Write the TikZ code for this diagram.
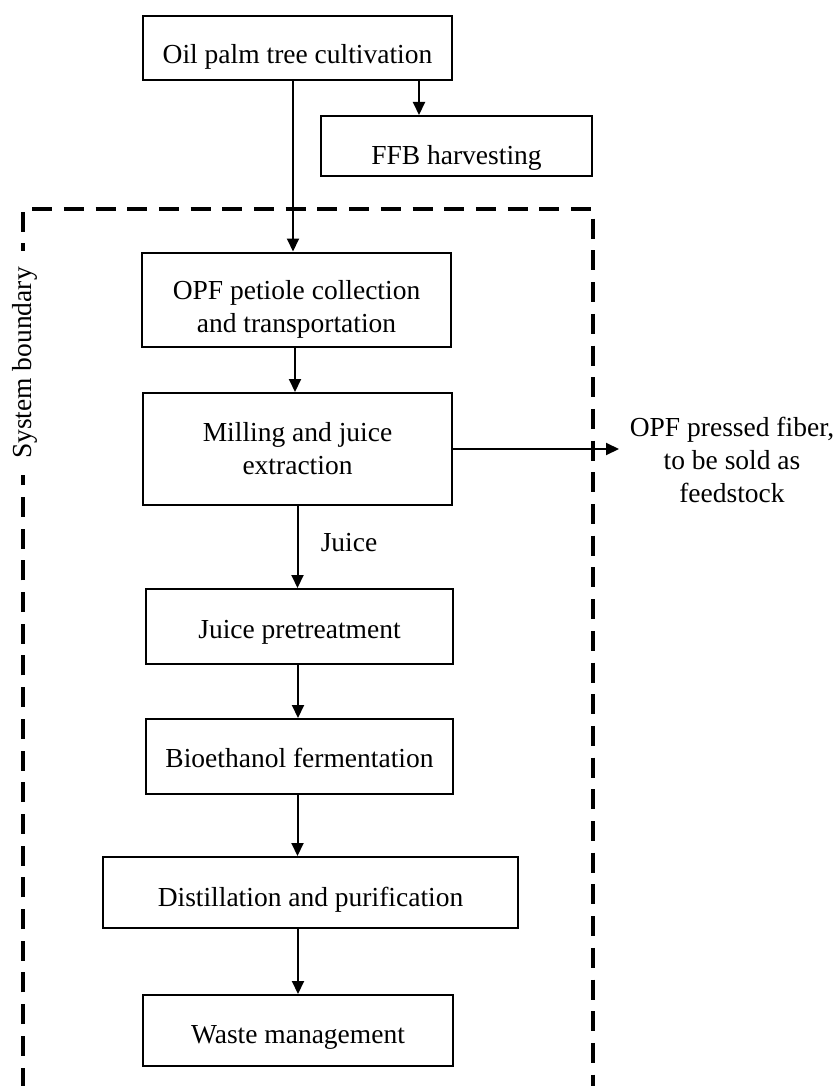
\documentclass[tikz,border=0pt]{standalone}
\usepackage{fontspec}
\setmainfont{Liberation Serif}
\usetikzlibrary{arrows.meta}
\begin{document}
\begin{tikzpicture}[x=1pt,y=-1pt,
  txt/.style={font=\fontsize{27.5}{33}\selectfont},
  box/.style={draw, line width=2pt, inner sep=0pt, txt, align=center},
  bl/.style={text height=#1, text depth=0pt},
  arr/.style={line width=2pt, -{Triangle[length=13pt,width=12pt]}},
  bound/.style={line width=4pt, dash pattern=on 20pt off 11.7pt},
  lbl/.style={txt, inner sep=0pt, align=center}]
\useasboundingbox (0,0) rectangle (838,1086);
% system boundary
\draw[bound] (23,1087.5) -- (23,209) -- (593,209) -- (593,1087.5) -- cycle;
\node[lbl, rotate=90, fill=white, inner xsep=16pt, inner ysep=3pt] (sb) at (24.6,363) {System boundary};
% boxes
\node[box, minimum width=309pt, minimum height=64pt, bl=32pt] (cult) at (297.5,48) {Oil palm tree cultivation};
\node[box, minimum width=271pt, minimum height=60pt, bl=38pt] (ffb) at (456.5,146) {FFB harvesting};
\node[box, minimum width=309pt, minimum height=94pt, text height=65pt, text depth=0pt] (opf) at (296.5,299.5) {OPF petiole collection\\and transportation};
\node[box, minimum width=309pt, minimum height=112pt] (mill) at (297.5,449) {Milling and juice\\extraction};
\node[box, minimum width=307pt, minimum height=75pt, bl=23pt] (jp) at (299.5,626.5) {Juice pretreatment};
\node[box, minimum width=307pt, minimum height=75pt, bl=21pt] (bio) at (299.5,756.5) {Bioethanol fermentation};
\node[box, minimum width=415pt, minimum height=71pt, bl=27pt] (dist) at (310.5,892.5) {Distillation and purification};
\node[box, minimum width=310pt, minimum height=71pt, bl=25pt] (waste) at (298,1030.5) {Waste management};
% labels
\node[lbl] (juice) at (349,543) {Juice};
\node[lbl] (fiber) at (732,460) {OPF pressed fiber,\\to be sold as\\feedstock};
\coordinate (fe) at (619,449);
% connectors
\draw[arr] ([xshift=-4.5pt]cult.south) -- ([xshift=-4.5pt]cult.south |- opf.north);
\draw[arr] ([xshift=-37.5pt]ffb.north |- cult.south) -- ([xshift=-37.5pt]ffb.north);
\draw[arr] ([xshift=-1.5pt]opf.south) -- ([xshift=-1.5pt]opf.south |- mill.north);
\draw[arr] (mill.south) -- (mill.south |- jp.north);
\draw[arr] ([xshift=-1.5pt]jp.south) -- ([xshift=-1.5pt]jp.south |- bio.north);
\draw[arr] ([xshift=-2pt]bio.south) -- ([xshift=-2pt]bio.south |- dist.north);
\draw[arr] (waste.north |- dist.south) -- (waste.north);
\draw[arr] (mill.east) -- (fe);
\end{tikzpicture}
\end{document}
